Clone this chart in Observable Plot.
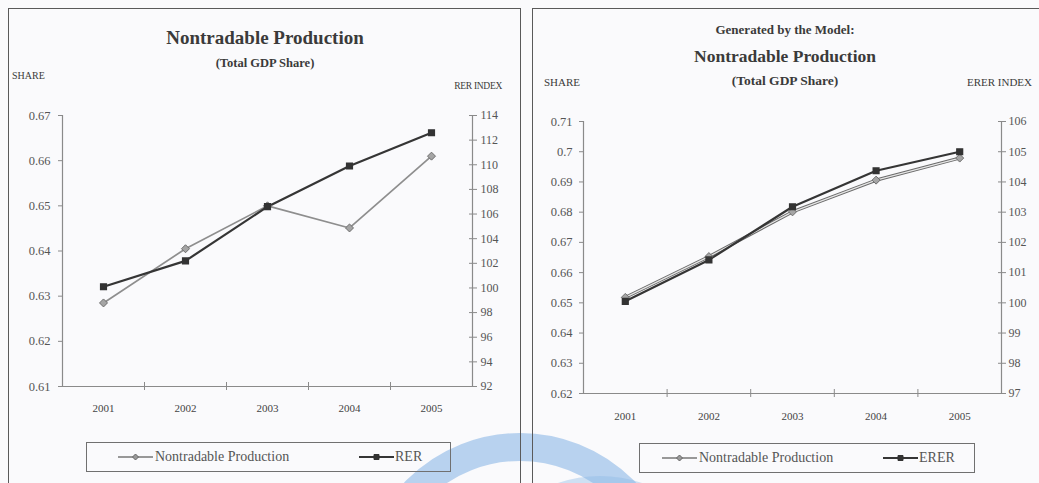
<!DOCTYPE html>
<html><head><meta charset="utf-8">
<script src="https://cdn.jsdelivr.net/npm/d3@7"></script>
<script src="https://cdn.jsdelivr.net/npm/@observablehq/plot@0.6"></script>
<style>
body{margin:0;width:1039px;height:483px;overflow:hidden;background:#fafafc;font-family:"Liberation Serif",serif;position:relative;color:#3a3a3a}
.panel{position:absolute;border:1px solid #5a5a5a;box-sizing:border-box}
.t{position:absolute;white-space:nowrap;line-height:1}
.c{transform:translate(-50%,-50%)}
.l{transform:translate(0,-50%)}
.r{transform:translate(-100%,-50%)}
.b{font-weight:bold}
.wm{position:absolute;border-radius:50%;box-sizing:border-box}
.legend{position:absolute;border:1px solid #707070;box-sizing:border-box}
.chart{position:absolute;top:0}
.lt{position:absolute;font-size:14px;color:#555;white-space:nowrap;line-height:1;transform:translate(0,-50%)}
.sw{position:absolute;overflow:visible}
</style></head>
<body>
<div class="wm" style="left:360px;top:433px;width:320px;height:320px;border:28px solid rgba(140,184,230,0.6)"></div>
<div class="wm" style="left:470px;top:476px;width:260px;height:260px;border:14px solid rgba(140,184,230,0.4)"></div>
<div class="panel" style="left:8px;top:8px;width:513px;height:500px"></div>
<div class="panel" style="left:532px;top:8px;width:520px;height:500px"></div>
<div id="left" class="chart" style="left:0"></div>
<div id="right" class="chart" style="left:520px"></div>

<div class="t c b" style="left:265px;top:37px;font-size:19px">Nontradable Production</div>
<div class="t c b" style="left:265px;top:63px;font-size:12.5px">(Total GDP Share)</div>
<div class="t l" style="left:12px;top:76px;font-size:10px">SHARE</div>
<div class="t r" style="left:502px;top:87px;font-size:9.5px;letter-spacing:-0.3px">RER INDEX</div>

<div class="t c b" style="left:785px;top:29px;font-size:13px">Generated by the Model:</div>
<div class="t c b" style="left:785px;top:57px;font-size:17.5px">Nontradable Production</div>
<div class="t c b" style="left:785px;top:81px;font-size:13.5px">(Total GDP Share)</div>
<div class="t l" style="left:544px;top:82px;font-size:11px">SHARE</div>
<div class="t r" style="left:1032px;top:82px;font-size:11px">ERER INDEX</div>

<div class="legend" style="left:86px;top:442px;width:365px;height:30px"></div>
<div class="legend" style="left:639px;top:443px;width:336px;height:30px"></div>

<script>
const years = [2001, 2002, 2003, 2004, 2005];
// Left panel: observed data
const ntObserved = [0.6285, 0.6405, 0.6500, 0.6451, 0.6610];
const rerIndex = [100.1, 102.2, 106.6, 109.9, 112.6];
const leftShareTicks = [0.61, 0.62, 0.63, 0.64, 0.65, 0.66, 0.67];
const leftIndexTicks = [92, 94, 96, 98, 100, 102, 104, 106, 108, 110, 112, 114];
// Right panel: generated by the model
const ntModel = [0.6518, 0.6653, 0.6801, 0.6906, 0.6979];
const ererIndex = [100.05, 101.42, 103.18, 104.37, 105.0];
const rightShareTicks = [0.62, 0.63, 0.64, 0.65, 0.66, 0.67, 0.68, 0.69, 0.7, 0.71];
const rightIndexTicks = [97, 98, 99, 100, 101, 102, 103, 104, 105, 106];

const axisStroke = "#8a8a8a", axisText = "#555";

function makePanel(cfg) {
  const toS = d3.scaleLinear().domain([cfg.idxTicks[0], cfg.idxTicks[cfg.idxTicks.length - 1]])
    .range([cfg.shareTicks[0], cfg.shareTicks[cfg.shareTicks.length - 1]]);
  const data = years.map((y, i) => ({year: y, nt: cfg.nt[i], idx: cfg.idx[i]}));
  const ntMarks = cfg.outline ? [
    Plot.line(data, {x: "year", y: "nt", stroke: "#6a6a6a", strokeWidth: 3.2}),
    Plot.line(data, {x: "year", y: "nt", stroke: "#e6e6e6", strokeWidth: 1.2})
  ] : [
    Plot.line(data, {x: "year", y: "nt", stroke: "#8e8e8e", strokeWidth: 1.7})
  ];
  return Plot.plot({
    width: cfg.width, height: 440,
    marginLeft: cfg.ml, marginRight: cfg.mr, marginTop: cfg.mt, marginBottom: cfg.mb,
    x: {type: "linear", domain: [2000.5, 2005.5], label: null},
    y: {domain: [cfg.shareTicks[0], cfg.shareTicks[cfg.shareTicks.length - 1]], label: null},
    style: {background: "transparent", fontFamily: "Liberation Serif, serif", overflow: "visible"},
    marks: [
      Plot.axisY({anchor: "left", label: null, ticks: cfg.shareTicks, tickSize: 4, tickPadding: cfg.lp,
        tickFormat: d => String(d), stroke: axisStroke, fill: axisText, fontSize: 12.5}),
      Plot.axisY({anchor: "right", label: null, ticks: cfg.idxTicks.map(toS), tickSize: 8, dx: -4, tickPadding: cfg.rp,
        tickFormat: d => String(Math.round(toS.invert(d))), stroke: axisStroke, fill: axisText, fontSize: 12}),
      Plot.axisX({anchor: "bottom", label: null, ticks: [2001.5, 2002.5, 2003.5, 2004.5], tickSize: 8, dy: -4,
        tickFormat: () => "", stroke: axisStroke}),
      Plot.axisX({anchor: "bottom", label: null, ticks: years, tickSize: 0, tickPadding: cfg.bp,
        tickFormat: d => String(d), fill: "#444", fontSize: 11}),
      Plot.ruleX([2000.5, 2005.5], {stroke: axisStroke, strokeWidth: 1.2}),
      Plot.ruleY([cfg.shareTicks[0]], {stroke: axisStroke, strokeWidth: 1.2}),
      ...ntMarks,
      Plot.line(data, {x: "year", y: d => toS(d.idx), stroke: "#353535", strokeWidth: 2.2}),
      Plot.dot(data, {x: "year", y: "nt", symbol: "diamond2", r: 3.6, fill: "#a5a5a5", stroke: "#6e6e6e", strokeWidth: 1}),
      Plot.dot(data, {x: "year", y: d => toS(d.idx), symbol: "square", r: 3.2, fill: "#333", stroke: "#333"})
    ]
  });
}

document.getElementById("left").append(makePanel({
  width: 520, ml: 62, mr: 48, mt: 115, mb: 54, lp: 8, rp: 4, bp: 18,
  shareTicks: leftShareTicks, idxTicks: leftIndexTicks, nt: ntObserved, idx: rerIndex, outline: false
}));
document.getElementById("right").append(makePanel({
  width: 519, ml: 63, mr: 38, mt: 121, mb: 47, lp: 7, rp: 3, bp: 19,
  shareTicks: rightShareTicks, idxTicks: rightIndexTicks, nt: ntModel, idx: ererIndex, outline: true
}));

// legends
function swatch(x, y, kind) {
  const ns = "http://www.w3.org/2000/svg";
  const s = document.createElementNS(ns, "svg");
  s.setAttribute("class", "sw");
  s.setAttribute("width", 36); s.setAttribute("height", 10);
  s.style.left = x + "px"; s.style.top = (y - 5) + "px";
  const line = document.createElementNS(ns, "line");
  line.setAttribute("x1", 0); line.setAttribute("x2", 35); line.setAttribute("y1", 5); line.setAttribute("y2", 5);
  line.setAttribute("stroke", kind === "d" ? "#777" : "#353535");
  line.setAttribute("stroke-width", kind === "d" ? 1.5 : 2);
  s.append(line);
  const m = document.createElementNS(ns, "path");
  m.setAttribute("d", kind === "d" ? "M17.5,2 L20.5,5 L17.5,8 L14.5,5Z" : "M15,2.5h5v5h-5Z");
  m.setAttribute("fill", kind === "d" ? "#999" : "#333");
  m.setAttribute("stroke", kind === "d" ? "#666" : "#333");
  s.append(m);
  document.body.append(s);
}
function label(x, y, txt) {
  const d = document.createElement("div");
  d.className = "lt"; d.style.left = x + "px"; d.style.top = y + "px"; d.textContent = txt;
  document.body.append(d);
}
swatch(118, 457, "d"); label(155, 457, "Nontradable Production");
swatch(359, 457, "s"); label(395, 457, "RER");
swatch(662, 458, "d"); label(699, 458, "Nontradable Production");
swatch(883, 458, "s"); label(919, 458, "ERER");
</script>
</body></html>
